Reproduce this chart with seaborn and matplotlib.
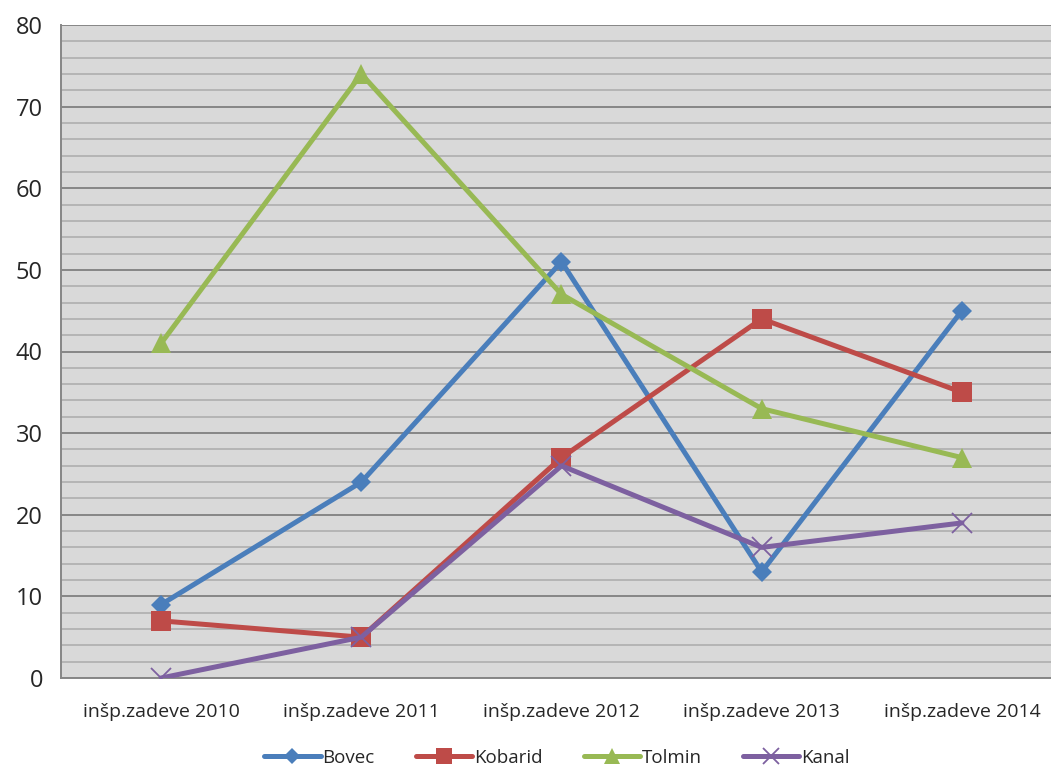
import pandas as pd
import numpy as np
import matplotlib.pyplot as plt
import seaborn as sns

# data
categories = ['inšp.zadeve 2010', 'inšp.zadeve 2011', 'inšp.zadeve 2012',
              'inšp.zadeve 2013', 'inšp.zadeve 2014']
bovec = [9, 24, 51, 13, 45]
kobarid = [7, 5, 27, 44, 35]
tolmin = [41, 74, 47, 33, 27]
kanal = [0, 5, 26, 16, 19]

series = {'Bovec': bovec, 'Kobarid': kobarid, 'Tolmin': tolmin, 'Kanal': kanal}
colors = {'Bovec': '#4A7EBB', 'Kobarid': '#BE4B48', 'Tolmin': '#98B954', 'Kanal': '#7D60A0'}
markers = {'Bovec': 'D', 'Kobarid': 's', 'Tolmin': '^', 'Kanal': 'x'}
msizes = {'Bovec': 10, 'Kobarid': 14, 'Tolmin': 14, 'Kanal': 14}

rows = []
for name, vals in series.items():
    for i, v in enumerate(vals):
        rows.append({'pos': i, 'value': v, 'series': name})
df = pd.DataFrame(rows)

sns.set_style('white')
plt.rcParams['font.family'] = ['Open Sans', 'DejaVu Sans']

fig = plt.figure(figsize=(10.51, 7.67), dpi=100)
ax = fig.add_axes([61 / 1051, 89 / 767, 1001 / 1051, 653 / 767])
ax.set_facecolor('#D9D9D9')

for name in series:
    sub = df[df['series'] == name]
    sns.lineplot(data=sub, x='pos', y='value', ax=ax, color=colors[name],
                 marker=markers[name], markersize=msizes[name], linewidth=3.6,
                 markeredgecolor=colors[name], markeredgewidth=1.3 if name == 'Kanal' else 0,
                 label=name, zorder=3)

ax.set_xlim(-0.5, 4.5)
ax.set_ylim(0, 80)
ax.set_yticks(np.arange(0, 81, 10))
ax.set_yticks(np.arange(0, 81, 2), minor=True)
ax.set_xticks(range(len(categories)))
ax.set_xticklabels(categories)
ax.set_xticks(np.arange(-0.5, 4.6, 1), minor=True)

ax.grid(axis='y', which='major', color='#868686', linewidth=1.4, zorder=1)
ax.grid(axis='y', which='minor', color='#ABABAB', linewidth=1.1, zorder=1)
ax.set_axisbelow(True)

ax.tick_params(axis='y', which='major', length=8, color='#868686', labelsize=17, pad=5)
ax.tick_params(axis='y', which='minor', length=0)
ax.tick_params(axis='x', which='major', length=0, labelsize=14, pad=18)
ax.tick_params(axis='x', which='minor', length=8, color='#868686', width=1.3, direction='out')

for s in ['top', 'right']:
    ax.spines[s].set_visible(False)
ax.spines['left'].set_color('#868686')
ax.spines['left'].set_linewidth(1.4)
ax.spines['bottom'].set_color('#868686')
ax.spines['bottom'].set_linewidth(1.4)

ax.set_xlabel('')
ax.set_ylabel('')

ax.get_legend().remove()
handles, labels = ax.get_legend_handles_labels()
fig.legend(handles, labels, loc='center', bbox_to_anchor=(557 / 1051, 1 - 758 / 767), ncol=4,
           frameon=False, fontsize=13.5, handlelength=3.0, columnspacing=2.2,
           handletextpad=0.1, borderpad=0, markerscale=0.8)

plt.savefig('out.png', dpi=100)
